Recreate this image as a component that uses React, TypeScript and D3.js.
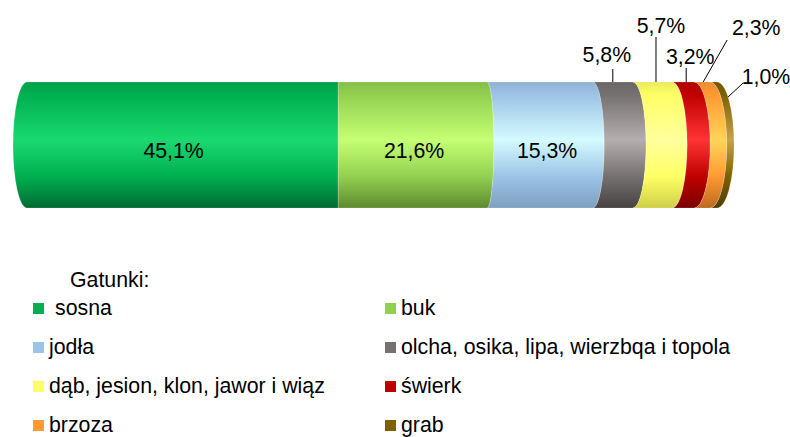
import React from "react";
import * as d3 from "d3";

const species = [
  "sosna",
  "buk",
  "jodła",
  "olcha, osika, lipa, wierzbqa i topola",
  "dąb, jesion, klon, jawor i wiąz",
  "świerk",
  "brzoza",
  "grab",
];
const shares = [45.1, 21.6, 15.3, 5.8, 5.7, 3.2, 2.3, 1.0];
const shareLabels = ["45,1%", "21,6%", "15,3%", "5,8%", "5,7%", "3,2%", "2,3%", "1,0%"];
const baseColors = ["#00b050", "#92d050", "#9dc3e6", "#767171", "#ffff66", "#c00000", "#ff9933", "#7f6000"];
const highlightColors = ["#1ad870", "#c4ff74", "#d4fbff", "#b4aeae", "#ffff9c", "#ff3434", "#ffd458", "#c4a444"];
const shadowColors = ["#006a32", "#5e8a30", "#7e9fc0", "#474343", "#cfcf48", "#7a0000", "#bd6a1e", "#4f3c00"];
const legendTitle = "Gatunki:";

type OutLayout = { dx: number; ay: number; ex: number; ey: number; tx: number; ty: number; cap?: boolean };
// layout of outside labels: attach point offset, leader end and text position relative to attach point
const outsideLayout: Record<number, OutLayout> = {
  3: { dx: 0, ay: 82, ex: 0, ey: -13, tx: -6, ty: -20 },
  4: { dx: 3.5, ay: 82, ex: 0, ey: -45, tx: 5, ty: -49 },
  5: { dx: 3, ay: 82, ex: 0, ey: -14, tx: 4, ty: -18 },
  6: { dx: 1, ay: 82, ex: 24, ey: -42, tx: 53, ty: -47 },
  7: { dx: 0, ay: 97, ex: 15, ey: -14, tx: 38, ty: -13, cap: true },
};

export default function App() {
  const W = 790, H = 437;
  const top = 82, bot = 208;
  const ry = (bot - top) / 2;
  const mid = (top + bot) / 2;
  const x = d3.scaleLinear().domain([0, 100]).range([27, 717]);
  const xc = 338;
  const k = 0.045;
  const cum = Array.from(d3.cumsum(shares)).map((v) => Math.min(100, v));
  const starts = [0, ...cum.slice(0, -1)];
  const rxAt = (px: number) => k * Math.abs(px - xc);
  const bulge = (px: number) => (px >= xc ? 1 : -1) * rxAt(px);

  const segPath = (i: number) => {
    const xl = x(starts[i]);
    const xr = x(cum[i]);
    const rl = rxAt(xl), rr = rxAt(xr);
    const sr = xr >= xc ? 1 : 0;
    const sl = xl >= xc ? 0 : 1;
    return `M${xl},${top} L${xr},${top} A${rr},${ry} 0 0 ${sr} ${xr},${bot} L${xl},${bot} A${rl},${ry} 0 0 ${sl} ${xl},${top} Z`;
  };

  const font = "'Liberation Sans', Arial, sans-serif";
  const fs = 21.3;
  const legendRows = [315, 354, 393, 432];

  return (
    <svg width={W} height={H} style={{ position: "absolute", left: 0, top: 0 }} fontFamily={font}>
      <defs>
        {species.map((s, i) => (
          <linearGradient key={s} id={`g${i}`} gradientUnits="userSpaceOnUse" x1={0} y1={top} x2={0} y2={bot}>
            <stop offset="0" stopColor={d3.color(baseColors[i])!.darker(0.25).toString()} />
            <stop offset="0.1" stopColor={baseColors[i]} />
            <stop offset="0.46" stopColor={highlightColors[i]} />
            <stop offset="0.75" stopColor={baseColors[i]} />
            <stop offset="1" stopColor={shadowColors[i]} />
          </linearGradient>
        ))}
      </defs>
      <rect width={W} height={H} fill="#fff" />
      {species.map((s, i) => (
        <path key={s} d={segPath(i)} fill={`url(#g${i})`} stroke="rgba(255,255,255,0.3)" strokeWidth={0.6} />
      ))}
      {species.map((s, i) => {
        const xl = x(starts[i]);
        const xr = x(cum[i]);
        const o = outsideLayout[i];
        if (!o) {
          const cx = (xl + bulge(xl) + xr + bulge(xr)) / 2;
          return (
            <text key={s} x={cx - 2} y={158} fontSize={fs} textAnchor="middle" fill="#000">
              {shareLabels[i]}
            </text>
          );
        }
        let ax = (xl + xr) / 2 + o.dx;
        if (o.cap) {
          const t = (o.ay - mid) / ry;
          ax = xr + rxAt(xr) * Math.sqrt(Math.max(0, 1 - t * t));
        }
        const ay = o.ay;
        return (
          <g key={s}>
            <line x1={ax} y1={ay} x2={ax + o.ex} y2={ay + o.ey} stroke="#000" strokeWidth={1} />
            <text x={ax + o.tx} y={ay + o.ty} fontSize={fs} textAnchor="middle" fill="#000">
              {shareLabels[i]}
            </text>
          </g>
        );
      })}
      <text x={70} y={287} fontSize={fs} fill="#000">{legendTitle}</text>
      {species.map((s, i) => {
        const col = i % 2;
        const row = Math.floor(i / 2);
        const mx = col === 0 ? 33 : 385;
        const ty = legendRows[row];
        return (
          <g key={s}>
            <rect x={mx} y={ty - 12} width={11} height={11} fill={baseColors[i]} />
            <text x={i === 0 ? 55 : mx + 16} y={ty} fontSize={fs} fill="#000">{s}</text>
          </g>
        );
      })}
    </svg>
  );
}
